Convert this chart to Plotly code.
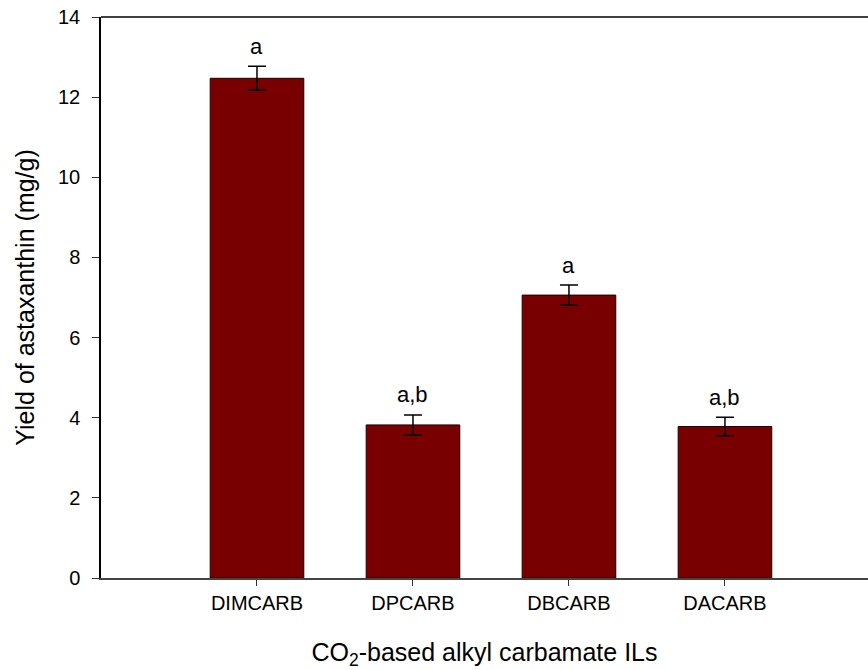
import plotly.graph_objects as go

# Astaxanthin yield per CO2-based alkyl carbamate ionic liquid
categories = ["DIMCARB", "DPCARB", "DBCARB", "DACARB"]
yield_mg_g = [12.47, 3.82, 7.06, 3.78]
yield_err = [0.30, 0.25, 0.25, 0.23]
group_letters = ["a", "a,b", "a", "a,b"]
y_ticks = [0, 2, 4, 6, 8, 10, 12, 14]

FONT = "Liberation Sans, Arial, sans-serif"
BAR_COLOR = "#780000"

fig = go.Figure()
fig.add_trace(go.Bar(
    x=list(range(len(categories))),
    y=yield_mg_g,
    width=0.6,
    marker=dict(color=BAR_COLOR, line=dict(color="#1a0000", width=1)),
    error_y=dict(type="data", array=yield_err, visible=True,
                 color="black", thickness=1.5, width=9),
    showlegend=False,
))

# significance letters above each error bar
for i, (v, e, lab) in enumerate(zip(yield_mg_g, yield_err, group_letters)):
    fig.add_annotation(x=i, y=v + e, text=lab, showarrow=False,
                       xref="x", yref="y", yanchor="middle", yshift=20,
                       font=dict(family=FONT, size=22, color="black"))

# top frame line
fig.add_shape(type="line", xref="paper", yref="paper", x0=0, x1=1, y0=1, y1=1,
              line=dict(color="black", width=1.5))

fig.update_layout(
    width=868, height=670,
    margin=dict(l=101, r=0, t=17, b=92),
    paper_bgcolor="white", plot_bgcolor="white",
    font=dict(family=FONT, color="black"),
    xaxis=dict(
        range=[-1, 3.917],
        tickvals=list(range(len(categories))), ticktext=categories,
        ticks="outside", ticklen=6, tickwidth=1.2, tickcolor="#333",
        showline=True, linecolor="#444", linewidth=1.5,
        showgrid=False, zeroline=False,
        tickfont=dict(size=20),
        title=dict(text="CO<sub>2</sub>-based alkyl carbamate ILs",
                   font=dict(size=25), standoff=33),
    ),
    yaxis=dict(
        range=[0, 14], tickvals=y_ticks,
        ticks="outside", ticklen=7, tickwidth=1.2, tickcolor="#333",
        showline=True, linecolor="black", linewidth=1.5,
        showgrid=False, zeroline=False,
        tickfont=dict(size=20), ticklabelstandoff=8,
        title=dict(text="Yield of astaxanthin (mg/g)",
                   font=dict(size=25), standoff=16),
    ),
)

fig.write_html("out.html")
